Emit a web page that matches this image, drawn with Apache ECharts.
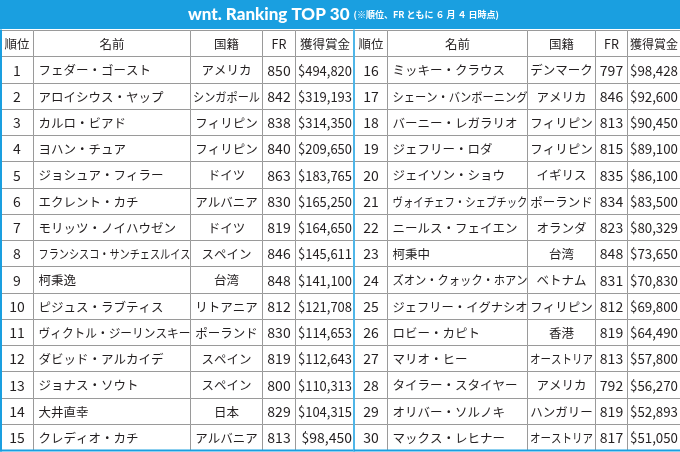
<!DOCTYPE html>
<html>
<head>
<meta charset="utf-8">
<script src="https://cdn.jsdelivr.net/npm/echarts@6/dist/echarts.min.js"></script>
<style>
html, body { margin: 0; padding: 0; background: #fff; }
#main { width: 680px; height: 452px; }
</style>
</head>
<body>
<div id="main"></div>
<script>
(function() {

// 表のデータ
var headers = ['順位', '名前', '国籍', 'FR', '獲得賞金'];
var rowCats = ['見出し', '1', '2', '3', '4', '5', '6', '7', '8', '9', '10', '11', '12', '13', '14', '15'];

var ranks = [1, 2, 3, 4, 5, 6, 7, 8, 9, 10, 11, 12, 13, 14, 15,
             16, 17, 18, 19, 20, 21, 22, 23, 24, 25, 26, 27, 28, 29, 30];

var names = [
    'フェダー・ゴースト', 'アロイシウス・ヤップ', 'カルロ・ビアド', 'ヨハン・チュア', 'ジョシュア・フィラー',
    'エクレント・カチ', 'モリッツ・ノイハウゼン', 'フランシスコ・サンチェスルイス', '柯秉逸', 'ピジュス・ラブティス',
    'ヴィクトル・ジーリンスキー', 'ダビッド・アルカイデ', 'ジョナス・ソウト', '大井直幸', 'クレディオ・カチ',
    'ミッキー・クラウス', 'シェーン・バンボーニング', 'バーニー・レガラリオ', 'ジェフリー・ロダ', 'ジェイソン・ショウ',
    'ヴォイチェフ・シェブチック', 'ニールス・フェイエン', '柯秉中', 'ズオン・クォック・ホアン', 'ジェフリー・イグナシオ',
    'ロビー・カピト', 'マリオ・ヒー', 'タイラー・スタイヤー', 'オリバー・ソルノキ', 'マックス・レヒナー'
];

var nationalities = [
    'アメリカ', 'シンガポール', 'フィリピン', 'フィリピン', 'ドイツ',
    'アルバニア', 'ドイツ', 'スペイン', '台湾', 'リトアニア',
    'ポーランド', 'スペイン', 'スペイン', '日本', 'アルバニア',
    'デンマーク', 'アメリカ', 'フィリピン', 'フィリピン', 'イギリス',
    'ポーランド', 'オランダ', '台湾', 'ベトナム', 'フィリピン',
    '香港', 'オーストリア', 'アメリカ', 'ハンガリー', 'オーストリア'
];

var frRatings = [850, 842, 838, 840, 863, 830, 819, 846, 848, 812, 830, 819, 800, 829, 813,
                 797, 846, 813, 815, 835, 834, 823, 848, 831, 812, 819, 813, 792, 819, 817];

var prizes = [494820, 319193, 314350, 209650, 183765, 165250, 164650, 145611, 141100, 121708,
              114653, 112643, 110313, 104315, 98450, 98428, 92600, 90450, 89100, 86100,
              83500, 80329, 73650, 70830, 69800, 64490, 57800, 56270, 52893, 51050];

// 列の境界（x軸の値）: 左半分 / 右半分
var colEdges = [
    [0, 33, 190, 262, 295, 354],
    [354, 387, 527, 595, 627, 680]
];

var FONT = '"Noto Sans CJK JP", "Noto Sans", sans-serif';
var TEXT_COLOR = '#231f20';
var LINE_COLOR = '#9a9a9a';
var BLUE = '#1a9fe0';

var ctx = document.createElement('canvas').getContext('2d');
function textWidth(t, size) {
    ctx.font = size + 'px ' + FONT;
    return ctx.measureText(t).width;
}

function fmtPrize(v) {
    return '$' + v.toLocaleString('en-US');
}

// セルのデータ: [半分, 行, 選手index]
var cells = [[0, 0, -1], [1, 0, -1]];
ranks.forEach(function(r, i) {
    cells.push([Math.floor(i / 15), (i % 15) + 1, i]);
});

function renderItem(params, api) {
    var half = api.value(0);
    var row = api.value(1);
    var idx = api.value(2);
    var edges = colEdges[half];
    var c = api.coord([0, row]);
    var h = api.size([0, 1])[1];
    var y0 = Math.round(c[1] - h / 2) + 0.5;
    var y1 = Math.round(c[1] + h / 2) + 0.5;
    var cy = (y0 + y1) / 2;
    var isHead = idx < 0;
    var texts = isHead ? headers : [
        String(ranks[idx]), names[idx], nationalities[idx], String(frRatings[idx]), fmtPrize(prizes[idx])
    ];
    var children = [];

    for (var k = 0; k < 5; k++) {
        var x0 = Math.round(api.coord([edges[k], row])[0]) + 0.5;
        var x1 = Math.round(api.coord([edges[k + 1], row])[0]) + 0.5;
        children.push({
            type: 'rect',
            z2: 0,
            shape: { x: x0, y: y0, width: x1 - x0, height: y1 - y0 },
            style: { fill: '#fff', stroke: LINE_COLOR, lineWidth: 1 }
        });

        var isNum = !isHead && (k === 0 || k === 3 || k === 4);
        var size = isNum ? 14 : 12.5;
        var align = 'center', tx = (x0 + x1) / 2;
        if (!isHead && k === 1) { align = 'left'; tx = x0 + 5; }
        if (!isHead && k === 4) { align = 'right'; tx = x1 - 2.5; }
        var maxW = (x1 - x0) - 5;
        var w = textWidth(texts[k], size);
        var sx = w > maxW ? maxW / w : 1;
        children.push({
            type: 'text',
            z2: 5,
            x: tx,
            y: cy + 0.5,
            scaleX: sx,
            style: {
                text: texts[k],
                x: 0, y: 0,
                align: align,
                verticalAlign: 'middle',
                fontSize: size,
                fontFamily: FONT,
                fill: TEXT_COLOR
            }
        });
    }

    // 外枠と中央の区切り線
    if (half === 0) {
        children.push({
            type: 'line', z2: 10,
            shape: { x1: 1, y1: y0 - 1, x2: 1, y2: y1 + 1 },
            style: { stroke: BLUE, lineWidth: 2 }
        });
    } else {
        var xd = api.coord([edges[0], row])[0];
        children.push({
            type: 'line', z2: 10,
            shape: { x1: xd, y1: y0 - 1, x2: xd, y2: y1 + 1 },
            style: { stroke: '#4fb6e8', lineWidth: 2 }
        });
    }
    if (row === rowCats.length - 1) {
        var xa = api.coord([edges[0], row])[0];
        var xb = api.coord([edges[5], row])[0];
        children.push({
            type: 'line', z2: 10,
            shape: { x1: xa, y1: y1, x2: xb, y2: y1 },
            style: { stroke: BLUE, lineWidth: 2 }
        });
    }
    return { type: 'group', children: children };
}

var myChart = echarts.init(document.getElementById('main'));

var option = {
    animation: false,
    backgroundColor: '#fff',
    graphic: {
        elements: [{
            type: 'rect',
            z: 0,
            shape: { x: 0, y: 0, width: 680, height: 29 },
            style: { fill: BLUE }
        }]
    },
    title: {
        z: 10,
        left: 188,
        top: 5,
        padding: 0,
        text: '{a|wnt. Ranking TOP 30}{b|(※順位、FR ともに ６ 月 ４ 日時点)}',
        textStyle: {
            rich: {
                a: { fontFamily: 'Lato, "Liberation Sans", sans-serif', fontWeight: 900, fontSize: 17, color: '#fff', lineHeight: 20, verticalAlign: 'middle' },
                b: { fontFamily: FONT, fontWeight: 'bold', fontSize: 9, color: '#fff', lineHeight: 20, verticalAlign: 'middle', padding: [0, 0, 0, 4] }
            }
        }
    },
    grid: { left: 0, right: 0, top: 30, bottom: 2 },
    xAxis: { type: 'value', min: 0, max: 680, show: false },
    yAxis: { type: 'category', data: rowCats, inverse: true, show: false },
    series: [{
        type: 'custom',
        renderItem: renderItem,
        encode: { x: 0, y: 1 },
        data: cells,
        silent: true
    }]
};

myChart.setOption(option);

window.onresize = function() {
    myChart.resize();
};

})();
</script>
</body>
</html>
